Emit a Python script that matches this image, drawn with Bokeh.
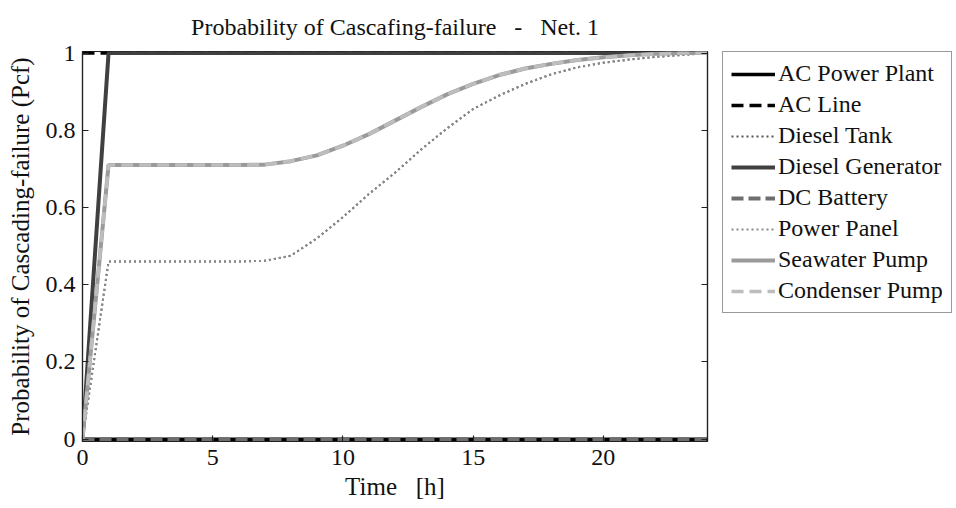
from bokeh.plotting import figure
from bokeh.models import Legend, LegendItem, LinearAxis, FixedTicker, Range1d
from bokeh.layouts import row
from bokeh.embed import file_html
from bokeh.resources import INLINE

# ---- data ----
hours = [0, 1, 2, 3, 4, 5, 6, 7, 8, 9, 10, 11, 12, 13, 14, 15, 16, 17, 18, 19, 20, 21, 22, 23, 24]
ac_power_plant = [0, 0, 0, 0, 0, 0, 0, 0, 0, 0, 0, 0, 0, 0, 0, 0, 0, 0, 0, 0, 0, 0, 0, 0, 0]
ac_line = [1, 1, 1, 1, 1, 1, 1, 1, 1, 1, 1, 1, 1, 1, 1, 1, 1, 1, 1, 1, 1, 1, 1, 1, 1]
diesel_tank = [0, 0.46, 0.46, 0.46, 0.46, 0.46, 0.46, 0.462, 0.475, 0.52, 0.575, 0.635, 0.69, 0.75,
               0.805, 0.855, 0.89, 0.92, 0.945, 0.963, 0.975, 0.983, 0.99, 0.995, 1.0]
diesel_generator = [0, 1, 1, 1, 1, 1, 1, 1, 1, 1, 1, 1, 1, 1, 1, 1, 1, 1, 1, 1, 1, 1, 1, 1, 1]
dc_battery = [0, 0, 0, 0, 0, 0, 0, 0, 0, 0, 0, 0, 0, 0, 0, 0, 0, 0, 0, 0, 0, 0, 0, 0, 0]
power_panel = [0, 0.46, 0.46, 0.46, 0.46, 0.46, 0.46, 0.462, 0.475, 0.52, 0.575, 0.635, 0.69, 0.75,
               0.805, 0.855, 0.89, 0.92, 0.945, 0.963, 0.975, 0.983, 0.99, 0.995, 1.0]
seawater_pump = [0, 0.71, 0.71, 0.71, 0.71, 0.71, 0.71, 0.711, 0.72, 0.735, 0.76, 0.79, 0.825, 0.86,
                 0.893, 0.92, 0.943, 0.96, 0.972, 0.982, 0.989, 0.994, 0.998, 1.0, 1.0]
condenser_pump = [0, 0.71, 0.71, 0.71, 0.71, 0.71, 0.71, 0.711, 0.72, 0.735, 0.76, 0.79, 0.825, 0.86,
                  0.893, 0.92, 0.943, 0.96, 0.972, 0.982, 0.989, 0.994, 0.998, 1.0, 1.0]

series_names = ["AC Power Plant", "AC Line", "Diesel Tank", "Diesel Generator",
                "DC Battery", "Power Panel", "Seawater Pump", "Condenser Pump"]
series_values = [ac_power_plant, ac_line, diesel_tank, diesel_generator,
                 dc_battery, power_panel, seawater_pump, condenser_pump]

x_ticks = [0, 5, 10, 15, 20]
y_ticks = [0, 0.2, 0.4, 0.6, 0.8, 1]
y_tick_labels = ["0", "0.2", "0.4", "0.6", "0.8", "1"]

title_text = "Probability of Cascafing-failure \u00a0 - \u00a0 Net. 1"
x_label = "Time \u00a0 [h]"
y_label = "Probability of Cascading-failure (Pcf)"

# ---- styles ----
styles = [
    dict(color="#000000", width=3.5, dash="solid"),
    dict(color="#000000", width=3.5, dash="12 6"),
    dict(color="#555555", width=2, dash="2 3"),
    dict(color="#404040", width=4, dash="solid"),
    dict(color="#6e6e6e", width=4, dash="12 5"),
    dict(color="#8a8a8a", width=2, dash="2 3"),
    dict(color="#9a9a9a", width=4, dash="solid"),
    dict(color="#bdbdbd", width=3.5, dash="12 6"),
]

FONT = "Liberation Serif"

# ---- main plot ----
p = figure(width=712, height=506, output_backend="svg", toolbar_location=None,
           x_range=Range1d(0, 24), y_range=Range1d(-0.006, 1.004),
           title=title_text,
           min_border_left=82, min_border_top=51, min_border_bottom=65, min_border_right=5)

p.title.text_font = FONT
p.title.text_font_size = "24px"
p.title.text_font_style = "normal"
p.title.align = "center"
p.title.vertical_align = "top"
p.title.text_color = "#111111"
p.title.standoff = 20

p.grid.visible = False
p.outline_line_color = "#222222"
p.outline_line_width = 1.2
p.background_fill_color = "white"
p.border_fill_color = "white"

for vals, st in zip(series_values, styles):
    p.line(hours, vals, line_color=st["color"], line_width=st["width"],
           line_dash=st["dash"])

def style_axis(ax, show_labels=True):
    ax.axis_line_color = "#222222"
    ax.axis_line_width = 1.2
    ax.major_tick_in = 6
    ax.major_tick_out = 0
    ax.minor_tick_in = 0
    ax.minor_tick_out = 0
    ax.major_tick_line_color = "#222222"
    ax.major_tick_line_width = 1.2
    ax.major_label_text_font = FONT
    ax.major_label_text_font_size = "24px" if show_labels else "1px"
    ax.major_label_text_color = "#111111" if show_labels else None
    ax.axis_label_text_font = FONT
    ax.axis_label_text_font_size = "25px"
    ax.axis_label_text_font_style = "normal"
    ax.axis_label_text_color = "#111111"

xa = p.xaxis[0]
xa.ticker = FixedTicker(ticks=x_ticks)
xa.axis_label = x_label
xa.major_label_standoff = 8
xa.axis_label_standoff = 5
style_axis(xa)

ya = p.yaxis[0]
ya.ticker = FixedTicker(ticks=y_ticks)
ya.major_label_overrides = {t: l for t, l in zip(y_ticks, y_tick_labels)}
ya.axis_label = y_label
ya.major_label_standoff = 7
ya.axis_label_standoff = 9
style_axis(ya)

ra = LinearAxis(ticker=FixedTicker(ticks=y_ticks), major_label_standoff=0)
style_axis(ra, show_labels=False)
p.add_layout(ra, "right")

# ---- legend panel (separate figure; same series, drawn outside its visible range) ----
lg = figure(width=242, height=506, output_backend="svg", toolbar_location=None,
            x_range=Range1d(100, 101), y_range=Range1d(100, 101),
            x_axis_type=None, y_axis_type=None,
            min_border_left=10, min_border_top=48, min_border_bottom=0, min_border_right=0)
lg.grid.visible = False
lg.outline_line_color = None
lg.background_fill_color = "white"
lg.border_fill_color = "white"

items = []
for name, vals, st in zip(series_names, series_values, styles):
    r = lg.line(hours, vals, line_color=st["color"], line_width=st["width"], line_dash=st["dash"])
    items.append(LegendItem(label=name, renderers=[r]))

legend = Legend(items=items, location="top_left")
legend.label_text_font = FONT
legend.label_text_font_size = "24px"
legend.label_text_color = "#111111"
legend.border_line_color = "#333333"
legend.border_line_width = 1.2
legend.background_fill_color = "white"
legend.background_fill_alpha = 1
legend.glyph_width = 44
legend.glyph_height = 26
legend.label_height = 26
legend.label_standoff = 3
legend.spacing = 4
legend.padding = 8
legend.margin = 0
lg.add_layout(legend, "center")

layout = row(p, lg)
open("out.html", "w").write(file_html(layout, INLINE))
